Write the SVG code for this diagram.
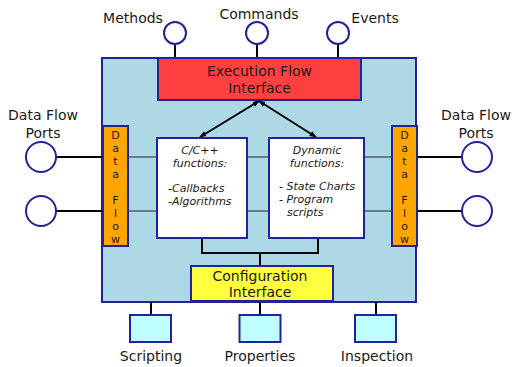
<svg xmlns="http://www.w3.org/2000/svg" width="514" height="367" viewBox="0 0 514 367">
<style>
text{font-family:"DejaVu Sans",sans-serif;fill:#1a1a1a}
.lbl{font-size:14px;text-anchor:middle}
.box{stroke:#22229a;stroke-width:2}
.port{fill:#fff;stroke:#22229a;stroke-width:2}
.wire{stroke:#000;stroke-width:2;fill:none}
.thin{stroke:#222;stroke-width:1.2;fill:none}
.it{font-size:11px;font-style:italic}
.df{font-size:11px;text-anchor:middle}
</style>
<defs>
<marker id="ah" viewBox="0 0 10 10" refX="9" refY="5" markerWidth="7" markerHeight="7" orient="auto-start-reverse" markerUnits="userSpaceOnUse">
<path d="M0,1 L10,5 L0,9 z" fill="#000"/>
</marker>
</defs>
<g id="main"><rect class="box" x="102" y="58" width="314" height="244" fill="#add8e6"/></g>
<g id="connectors">
<line class="wire" x1="175" y1="44" x2="175" y2="58"/>
<line class="wire" x1="257" y1="44" x2="257" y2="58"/>
<line class="wire" x1="338" y1="44" x2="338" y2="58"/>
<line class="wire" x1="56" y1="157" x2="103" y2="157"/>
<line class="wire" x1="56" y1="211" x2="103" y2="211"/>
<line class="wire" x1="417" y1="157" x2="462" y2="157"/>
<line class="wire" x1="417" y1="211" x2="462" y2="211"/>
<line class="thin" x1="128" y1="157" x2="392" y2="157"/>
<line class="thin" x1="128" y1="211" x2="392" y2="211"/>
<line class="wire" x1="259" y1="101" x2="200" y2="137" marker-start="url(#ah)" marker-end="url(#ah)" stroke-width="1.8"/>
<line class="wire" x1="259" y1="101" x2="316" y2="137" marker-start="url(#ah)" marker-end="url(#ah)" stroke-width="1.8"/>
<path class="wire" d="M202,238 V253 H318 V238 M260,253 V266" stroke-width="2.5"/>
<line class="wire" x1="151" y1="302" x2="151" y2="315"/>
<line class="wire" x1="260" y1="302" x2="260" y2="315"/>
<line class="wire" x1="376" y1="302" x2="376" y2="315"/>
</g>
<g id="exec"><rect class="box" x="158" y="58" width="203" height="42" fill="#ff4040"/>
<text class="lbl" x="259.5" y="76" font-size="13">Execution Flow</text>
<text class="lbl" x="259.5" y="92.5" font-size="13">Interface</text></g>
<g id="methods"><circle class="port" cx="175" cy="33" r="11"/><text class="lbl" x="133" y="23">Methods</text></g>
<g id="commands"><circle class="port" cx="257" cy="33" r="11"/><text class="lbl" x="259" y="18.5">Commands</text></g>
<g id="events"><circle class="port" cx="338" cy="33" r="11"/><text class="lbl" x="375" y="23">Events</text></g>
<g id="df-left"><rect class="box" x="103" y="126" width="25" height="120" fill="#ffa500"/>
<text class="df"><tspan x="115.5" y="139">D</tspan><tspan x="115.5" y="152">a</tspan><tspan x="115.5" y="165">t</tspan><tspan x="115.5" y="178">a</tspan><tspan x="115.5" y="204">F</tspan><tspan x="115.5" y="217">l</tspan><tspan x="115.5" y="229.5">o</tspan><tspan x="115.5" y="242.5">w</tspan></text></g>
<g id="df-right"><rect class="box" x="392" y="126" width="25" height="120" fill="#ffa500"/>
<text class="df"><tspan x="404.5" y="139">D</tspan><tspan x="404.5" y="152">a</tspan><tspan x="404.5" y="165">t</tspan><tspan x="404.5" y="178">a</tspan><tspan x="404.5" y="204">F</tspan><tspan x="404.5" y="217">l</tspan><tspan x="404.5" y="229.5">o</tspan><tspan x="404.5" y="242.5">w</tspan></text></g>
<g id="ports-left"><circle class="port" cx="41" cy="157" r="15"/><circle class="port" cx="41" cy="211" r="15"/>
<text class="lbl" x="43" y="120">Data Flow</text><text class="lbl" x="43" y="137.5">Ports</text></g>
<g id="ports-right"><circle class="port" cx="477" cy="157" r="15"/><circle class="port" cx="477" cy="211" r="15"/>
<text class="lbl" x="476" y="120">Data Flow</text><text class="lbl" x="476" y="137.5">Ports</text></g>
<g id="cfun"><rect class="box" x="157" y="138" width="90" height="100" fill="#fff"/>
<text class="it" text-anchor="middle" x="200" y="153.5">C/C++</text>
<text class="it" text-anchor="middle" x="200" y="167">functions:</text>
<text class="it" x="168" y="191.5">-Callbacks</text>
<text class="it" x="168" y="204.5">-Algorithms</text></g>
<g id="dynfun"><rect class="box" x="269" y="138" width="95" height="100" fill="#fff"/>
<text class="it" text-anchor="middle" x="317" y="153.5">Dynamic</text>
<text class="it" text-anchor="middle" x="317" y="167">functions:</text>
<text class="it" x="279" y="190">- State Charts</text>
<text class="it" x="279" y="203">- Program</text>
<text class="it" x="287" y="216">scripts</text></g>
<g id="config"><rect class="box" x="191" y="266" width="142" height="35" fill="#ffff40"/>
<text class="lbl" x="260" y="280.5" font-size="13">Configuration</text>
<text class="lbl" x="260" y="296.5" font-size="13">Interface</text></g>
<g id="scripting"><rect class="box" x="130" y="315" width="41" height="27" fill="#c0ffff"/><text class="lbl" x="151" y="360.5">Scripting</text></g>
<g id="properties"><rect class="box" x="239.5" y="315" width="41" height="27" fill="#c0ffff"/><text class="lbl" x="260" y="360.5">Properties</text></g>
<g id="inspection"><rect class="box" x="355" y="315" width="41" height="27" fill="#c0ffff"/><text class="lbl" x="377" y="360.5">Inspection</text></g>
</svg>
